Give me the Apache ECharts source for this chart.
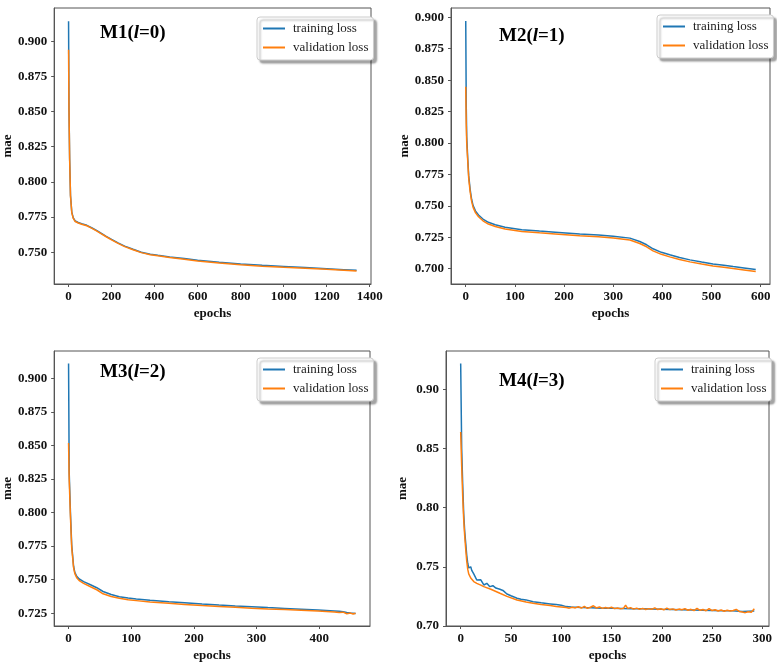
<!DOCTYPE html>
<html><head><meta charset="utf-8">
<script src="https://cdn.jsdelivr.net/npm/echarts@6/dist/echarts.min.js"></script>
<style>html,body{margin:0;padding:0;background:#fff}#c{width:777px;height:669px}</style>
</head><body><div id="c"></div>
<script>
// ---------------- data ----------------
const seriesNames = ['training loss', 'validation loss'];
const panelTitles = ['M1(|0)', 'M2(|1)', 'M3(|2)', 'M4(|3)'];

// M1 (l=0)
const p1Epochs = [0, 2, 5, 9, 15, 22, 31, 45, 61, 85, 107, 130, 153, 175, 200, 230, 261, 300, 338, 380, 415, 470, 538, 600, 700, 800, 900, 1000, 1100, 1200, 1280, 1339];
const p1Train = [0.9142, 0.852, 0.817, 0.7905, 0.7785, 0.7744, 0.7722, 0.7711, 0.7702, 0.7691, 0.7674, 0.7655, 0.7633, 0.7613, 0.7591, 0.7566, 0.7543, 0.7521, 0.7500, 0.7486, 0.7478, 0.7466, 0.7455, 0.7443, 0.7428, 0.7416, 0.7407, 0.7399, 0.7391, 0.7383, 0.7376, 0.7371];
const p1Val = [0.894, 0.851, 0.816, 0.790, 0.778, 0.774, 0.7718, 0.7708, 0.7699, 0.7688, 0.7671, 0.7652, 0.763, 0.761, 0.7588, 0.7563, 0.754, 0.7518, 0.7497, 0.7482, 0.7474, 0.7462, 0.745, 0.7438, 0.7423, 0.741, 0.7401, 0.7393, 0.7386, 0.7378, 0.7372, 0.7367];

// M2 (l=1)
const p2Epochs = [0, 1, 2, 4, 6, 9, 12, 15, 20, 26, 35, 46, 60, 80, 114, 150, 182, 232, 270, 300, 334, 354, 368, 381, 398, 415, 435, 456, 480, 503, 525, 544, 566, 590];
const p2Train = [0.897, 0.830, 0.805, 0.788, 0.774, 0.763, 0.755, 0.7502, 0.7458, 0.7427, 0.7395, 0.7369, 0.7349, 0.7329, 0.7310, 0.7299, 0.7290, 0.7276, 0.7267, 0.7258, 0.7243, 0.7216, 0.7190, 0.7158, 0.7130, 0.7110, 0.7089, 0.7070, 0.7053, 0.7038, 0.7027, 0.7017, 0.7006, 0.6993];
const p2Val = [0.8448, 0.815, 0.800, 0.786, 0.772, 0.761, 0.7535, 0.7488, 0.7444, 0.7413, 0.7381, 0.7355, 0.7335, 0.7315, 0.7296, 0.7285, 0.7276, 0.7262, 0.7253, 0.7244, 0.7228, 0.7200, 0.7174, 0.7142, 0.7114, 0.7094, 0.7073, 0.7054, 0.7037, 0.7022, 0.7011, 0.7001, 0.6990, 0.6978];

// M3 (l=2)
const p3Epochs = [0, 1, 3, 5, 8, 10, 13, 17, 24, 35, 45, 55, 68, 81, 95, 108, 130, 160, 185, 213, 240, 266, 292, 318, 345, 371, 398, 424, 432, 438, 444, 450, 454, 458];
const p3Train = [0.911, 0.830, 0.800, 0.776, 0.760, 0.7555, 0.7525, 0.7505, 0.7485, 0.7462, 0.7440, 0.7412, 0.7390, 0.7373, 0.7363, 0.7356, 0.7346, 0.7336, 0.7328, 0.7319, 0.7311, 0.7304, 0.7298, 0.7292, 0.7286, 0.7280, 0.7274, 0.7267, 0.7264, 0.7261, 0.7256, 0.7252, 0.7250, 0.7248];
const p3Val = [0.8518, 0.825, 0.797, 0.774, 0.759, 0.7545, 0.7515, 0.7493, 0.7473, 0.7447, 0.7425, 0.7395, 0.7375, 0.7361, 0.7350, 0.7344, 0.7333, 0.7324, 0.7316, 0.7307, 0.7301, 0.7295, 0.7288, 0.7282, 0.7277, 0.7272, 0.7266, 0.7260, 0.7255, 0.7258, 0.7246, 0.7251, 0.7244, 0.7250];

// M4 (l=3)
const p4TrainEpochs = [0, 1, 2, 3, 4, 5, 6, 7, 8, 9, 10, 11, 13, 16, 20, 23, 26, 29, 32, 35, 39, 42, 46, 50, 53, 56, 60, 65, 72, 80, 89, 95, 100, 105, 110, 115, 120, 130, 140, 150, 160, 170, 180, 190, 200, 210, 220, 230, 240, 250, 260, 270, 280, 292];
const p4TrainLoss = [0.922, 0.850, 0.820, 0.795, 0.780, 0.770, 0.760, 0.753, 0.749, 0.7485, 0.750, 0.747, 0.744, 0.7388, 0.7390, 0.7346, 0.7360, 0.7332, 0.7340, 0.7320, 0.7310, 0.7300, 0.7270, 0.7255, 0.7245, 0.7234, 0.7225, 0.7220, 0.7205, 0.7195, 0.7186, 0.7180, 0.7175, 0.7163, 0.7160, 0.7158, 0.7155, 0.7154, 0.7150, 0.7150, 0.7148, 0.7146, 0.7144, 0.7142, 0.7140, 0.7139, 0.7137, 0.7135, 0.7133, 0.7131, 0.7129, 0.7127, 0.7122, 0.7125];
const p4ValEpochs = [0, 1, 2, 3, 4, 5, 6, 7, 8, 10, 13, 16, 20, 23, 30, 39, 46, 56, 65, 72, 80, 89, 95, 105, 108, 111, 114, 117, 120, 123, 126, 129, 132, 135, 138, 141, 144, 147, 150, 153, 156, 159, 162, 164, 166, 169, 172, 175, 178, 181, 184, 187, 190, 193, 196, 199, 202, 205, 208, 211, 214, 217, 220, 223, 226, 229, 232, 235, 238, 241, 244, 247, 250, 253, 256, 259, 262, 265, 268, 271, 274, 277, 280, 283, 286, 289, 292];
const p4ValLoss = [0.864, 0.835, 0.810, 0.790, 0.776, 0.765, 0.755, 0.748, 0.744, 0.7405, 0.7375, 0.7360, 0.7345, 0.7332, 0.7310, 0.7276, 0.7250, 0.7219, 0.7202, 0.7191, 0.7180, 0.7172, 0.7165, 0.7155, 0.7150, 0.7158, 0.7152, 0.7162, 0.7150, 0.7165, 0.7148, 0.7158, 0.7170, 0.7152, 0.7160, 0.7148, 0.7156, 0.7150, 0.7158, 0.7146, 0.7152, 0.7144, 0.7150, 0.7175, 0.7148, 0.7154, 0.7142, 0.7150, 0.7140, 0.7148, 0.7138, 0.7146, 0.7140, 0.7152, 0.7138, 0.7145, 0.7136, 0.7150, 0.7138, 0.7144, 0.7134, 0.7142, 0.7136, 0.7146, 0.7132, 0.7140, 0.7130, 0.7148, 0.7132, 0.7138, 0.7128, 0.7146, 0.7130, 0.7136, 0.7126, 0.7134, 0.7124, 0.7132, 0.7126, 0.7130, 0.7140, 0.7122, 0.7118, 0.7112, 0.7120, 0.7115, 0.7145];

// tick values
const p1XTicks = [0, 200, 400, 600, 800, 1000, 1200, 1400];
const p1YTicks = [0.750, 0.775, 0.800, 0.825, 0.850, 0.875, 0.900];
const p2XTicks = [0, 100, 200, 300, 400, 500, 600];
const p2YTicks = [0.700, 0.725, 0.750, 0.775, 0.800, 0.825, 0.850, 0.875, 0.900];
const p3XTicks = [0, 100, 200, 300, 400];
const p3YTicks = [0.725, 0.750, 0.775, 0.800, 0.825, 0.850, 0.875, 0.900];
const p4XTicks = [0, 50, 100, 150, 200, 250, 300];
const p4YTicks = [0.70, 0.75, 0.80, 0.85, 0.90];

// ---------------- layout ----------------
const zip = (xs, ys) => xs.map((x, i) => [x, ys[i]]);
const panels = [
  {grid: {left: 51, top: 8, width: 320, height: 276}, x: [-67, 1406], y: [0.7274, 0.9236], xt: p1XTicks, yt: p1YTicks, dec: 3,
   train: zip(p1Epochs, p1Train), val: zip(p1Epochs, p1Val), title: {left: 100, top: 24}, legend: {left: 257, top: 17}},
  {grid: {left: 451, top: 8, width: 319, height: 276}, x: [-30, 619], y: [0.6878, 0.9074], xt: p2XTicks, yt: p2YTicks, dec: 3,
   train: zip(p2Epochs, p2Train), val: zip(p2Epochs, p2Val), title: {left: 499, top: 27}, legend: {left: 657, top: 15}},
  {grid: {left: 50, top: 351, width: 320, height: 275}, x: [-23, 481], y: [0.7155, 0.9203], xt: p3XTicks, yt: p3YTicks, dec: 3,
   train: zip(p3Epochs, p3Train), val: zip(p3Epochs, p3Val), title: {left: 100, top: 363}, legend: {left: 257, top: 358}},
  {grid: {left: 446, top: 351, width: 323, height: 275}, x: [-14.6, 306.6], y: [0.6999, 0.9326], xt: p4XTicks, yt: p4YTicks, dec: 2,
   train: zip(p4TrainEpochs, p4TrainLoss), val: zip(p4ValEpochs, p4ValLoss), title: {left: 499, top: 372}, legend: {left: 655, top: 358}}
];

const FONT = 'Liberation Serif';
const colors = ['#1f77b4', '#ff7f0e'];
const labelStyle = {fontFamily: FONT, fontWeight: 'bold', fontSize: 13, color: '#111'};

const option = {
  animation: false,
  backgroundColor: '#fff',
  grid: [], xAxis: [], yAxis: [], series: [], legend: [], title: []
};

panels.forEach((p, i) => {
  option.grid.push(Object.assign({show: true, borderColor: '#555', borderWidth: 1, backgroundColor: 'transparent'}, p.grid));
  option.xAxis.push({
    type: 'value', gridIndex: i, min: p.x[0], max: p.x[1],
    name: 'epochs', nameLocation: 'middle', nameGap: 23,
    nameTextStyle: {fontFamily: FONT, fontWeight: 'bold', fontSize: 13, color: '#111'},
    axisLine: {show: true, onZero: false, lineStyle: {color: '#555'}},
    axisTick: {show: true, length: 3, customValues: p.xt, lineStyle: {color: '#555'}},
    axisLabel: Object.assign({customValues: p.xt, margin: 6, formatter: v => String(Math.round(v))}, labelStyle),
    splitLine: {show: false}
  });
  option.yAxis.push({
    type: 'value', gridIndex: i, min: p.y[0], max: p.y[1],
    name: 'mae', nameLocation: 'middle', nameGap: i % 2 === 0 ? 40 : 37,
    nameTextStyle: {fontFamily: FONT, fontWeight: 'bold', fontSize: 13, color: '#111'},
    axisLine: {show: true, onZero: false, lineStyle: {color: '#555'}},
    axisTick: {show: true, length: 3, customValues: p.yt, lineStyle: {color: '#555'}},
    axisLabel: Object.assign({customValues: p.yt, margin: 7, formatter: v => v.toFixed(p.dec)}, labelStyle),
    splitLine: {show: false}
  });
  [p.train, p.val].forEach((d, k) => {
    option.series.push({
      type: 'line', name: seriesNames[k], xAxisIndex: i, yAxisIndex: i, data: d,
      showSymbol: false, symbol: 'none', color: colors[k],
      lineStyle: {width: 1.5, color: colors[k]}
    });
  });
  option.legend.push({
    left: p.legend.left, top: p.legend.top, orient: 'vertical', data: seriesNames,
    icon: 'rect', itemWidth: 22, itemHeight: 2, itemGap: 6, padding: [5, 5, 6, 6],
    backgroundColor: '#fff', borderColor: '#ccc', borderWidth: 1, borderRadius: 3,
    shadowColor: 'rgba(0,0,0,0.35)', shadowBlur: 2, shadowOffsetX: 3, shadowOffsetY: 3,
    selectedMode: false,
    textStyle: {fontFamily: FONT, fontSize: 13, color: '#222', padding: [0, 0, 0, 3]}
  });
  const parts = panelTitles[i].split('|');
  option.title.push({
    left: p.title.left, top: p.title.top, padding: 0,
    text: '{a|' + parts[0] + '}{b|l}{a|=' + parts[1] + '}',
    textStyle: {rich: {
      a: {fontFamily: FONT, fontWeight: 'bold', fontSize: 19, color: '#000'},
      b: {fontFamily: FONT, fontWeight: 'bold', fontStyle: 'italic', fontSize: 19, color: '#000'}
    }}
  });
});

const chart = echarts.init(document.getElementById('c'), null, {renderer: 'canvas'});
chart.setOption(option);
</script></body></html>
